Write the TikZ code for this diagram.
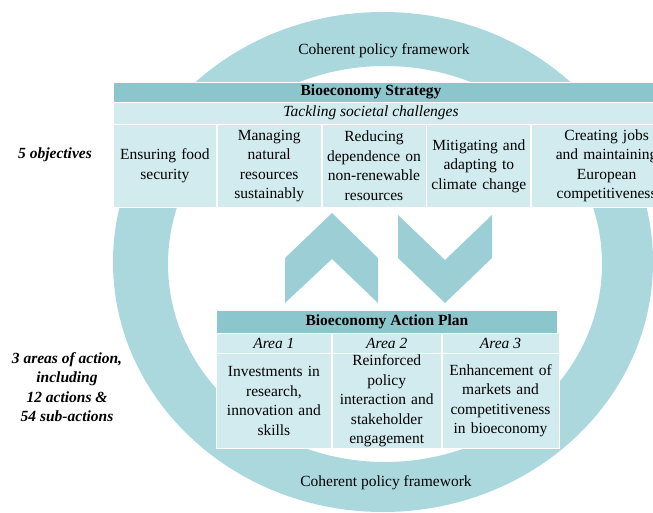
\documentclass[tikz,border=0pt]{standalone}
\usepackage{fontspec}
\setmainfont{Liberation Serif}
\usetikzlibrary{positioning}
\definecolor{ringteal}{HTML}{AAD8DD}
\definecolor{arrowteal}{HTML}{9CCFD5}
\definecolor{headteal}{HTML}{8CC6CD}
\definecolor{cellteal}{HTML}{D2EBEE}
\newcommand\bodysize{\fontsize{15.5}{19.5}\selectfont}

\begin{document}
\begin{tikzpicture}[x=1pt,y=-1pt,font=\bodysize,
  band/.style={fill=headteal,draw=white,line width=0.8pt,minimum height=20pt,inner sep=0pt,anchor=north west},
  subband/.style={fill=cellteal,draw=white,line width=0.8pt,minimum height=22pt,inner sep=0pt,anchor=north west},
  objbox/.style={fill=cellteal,draw=white,line width=0.8pt,align=center,inner sep=1pt,text width=100pt,minimum height=83pt,anchor=north west},
  areabox/.style={fill=cellteal,draw=white,line width=0.8pt,inner sep=0pt,minimum height=20pt,font=\bodysize\itshape,anchor=north west},
  actbox/.style={fill=cellteal,draw=white,line width=0.8pt,align=center,inner sep=1pt,text width=104pt,minimum height=95pt,anchor=north west},
  sidenote/.style={font=\bodysize\bfseries\itshape,align=center}]
  \useasboundingbox (0,0) rectangle (653,513);
  \clip (0,0) rectangle (653,513);

  % framework ring
  \fill[ringteal,even odd rule] (383,262) ellipse [x radius=270,y radius=250]
    (385,264) ellipse [x radius=217,y radius=198];
  \node (cpftop) at (384,51) {Coherent policy framework};
  \node (cpfbot) at (386,483) {Coherent policy framework};

  % strategy table
  \node[band,minimum width=565pt] (sshead) at (113,82) {};
  \node[font=\bodysize\bfseries] (sstitle) at (371,92) {Bioeconomy Strategy};
  \node[subband,minimum width=565pt] (sssub) at (113,102) {};
  \node[font=\bodysize\itshape] (sschall) at (371,113) {Tackling societal challenges};
  \node[objbox,minimum width=103pt] (obja) at (113,124) {Ensuring food\\security};
  \node[objbox,minimum width=104pt,right=0pt of obja] (objb) {Managing\\natural\\resources\\sustainably};
  \node[objbox,minimum width=104pt,right=0pt of objb] (objc) {Reducing\\dependence on\\non-renewable\\resources};
  \node[objbox,minimum width=104pt,right=0pt of objc] (objd) {Mitigating and\\adapting to\\climate change};
  \node[objbox,text width=140pt,minimum width=150pt,right=0pt of objd] (obje) {Creating jobs\\and maintaining\\European\\competitiveness};

  % chevrons
  \fill[arrowteal] (285,258) -- (332,213) -- (378,258) -- (378,303) -- (332,259) -- (285,303) -- cycle;
  \fill[arrowteal] (398,215) -- (445,260) -- (492,215) -- (492,258) -- (445,303) -- (398,258) -- cycle;

  % action plan table
  \node[band,minimum width=341pt,minimum height=23pt,font=\bodysize\bfseries] (aphead) at (216,310) {Bioeconomy Action Plan};
  \node[areabox,minimum width=115pt] (areaa) at (216,333) {Area 1};
  \node[areabox,minimum width=109pt,right=0pt of areaa] (areab) {Area 2};
  \node[areabox,minimum width=117pt,right=0pt of areab] (areac) {Area 3};
  \node[actbox,minimum width=115pt] (acta) at (216,353) {Investments in\\research,\\innovation and\\skills};
  \node[actbox,minimum width=109pt,right=0pt of acta] (actb) {Reinforced\\policy\\interaction and\\stakeholder\\engagement};
  \node[actbox,minimum width=117pt,right=0pt of actb] (actc) {Enhancement of\\markets and\\competitiveness\\in bioeconomy};

  % side notes
  \node[sidenote] (objnote) at (55,155) {5 objectives};
  \node[sidenote] (areanote) at (67,387) {3 areas of action,\\including\\12 actions \&\\54 sub-actions};
\end{tikzpicture}
\end{document}
